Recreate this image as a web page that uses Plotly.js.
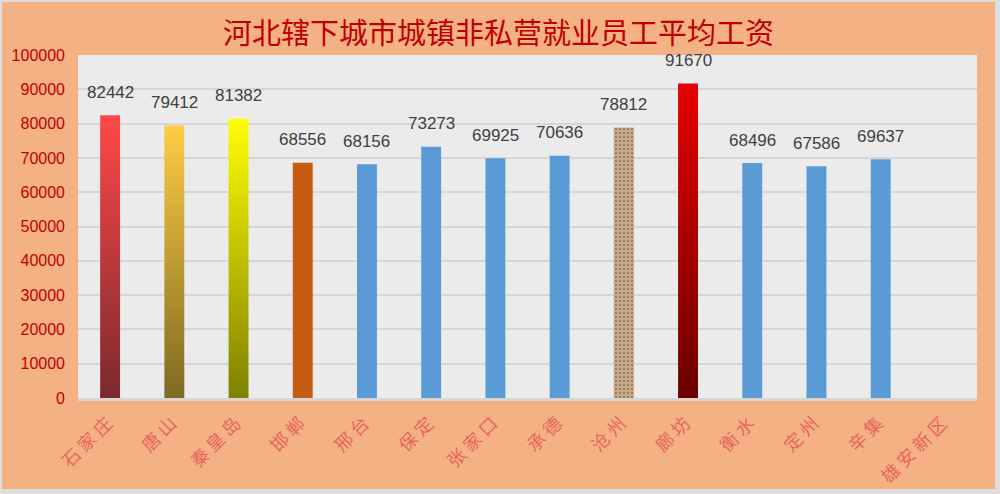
<!DOCTYPE html>
<html>
<head>
<meta charset="utf-8">
<script src="https://cdn.plot.ly/plotly-3.0.1.min.js"></script>
<style>
  body { margin: 0; background: #DEDEDE; }
  #chart { position: absolute; left: 2px; top: 2px; width: 993px; height: 487px; }
</style>
</head>
<body>
<div id="chart"></div>
<script>
// data
const cities = ['石家庄', '唐山', '秦皇岛', '邯郸', '邢台', '保定', '张家口', '承德', '沧州', '廊坊', '衡水', '定州', '辛集', '雄安新区'];
const wages = [82442, 79412, 81382, 68556, 68156, 73273, 69925, 70636, 78812, 91670, 68496, 67586, 69637, null];

// top / bottom colours of each bar (same = solid)
const topColors = ['#FF4848', '#FFCC44', '#FFFF00', '#C55A11', '#5B9BD5', '#5B9BD5', '#5B9BD5', '#5B9BD5', '#C4A584', '#E60000', '#5B9BD5', '#5B9BD5', '#5B9BD5', '#5B9BD5'];
const bottomColors = ['#7A2A2E', '#7E6A22', '#7F8000', '#C55A11', '#5B9BD5', '#5B9BD5', '#5B9BD5', '#5B9BD5', '#C4A584', '#6A0000', '#5B9BD5', '#5B9BD5', '#5B9BD5', '#5B9BD5'];

function plotWages(el) {

    let trace = {
        x: cities,
        y: wages,
        type: 'bar',
        marker: {
            color: topColors,
            line: {width: 0}
        },
        hoverinfo: 'x+y'
    };

    // sandy texture on 沧州
    let sand = {
        x: cities.map((c, i) => i == 8 ? c : null),
        y: wages.map((v, i) => i == 8 ? v : null),
        type: 'bar',
        marker: {
            color: '#C4A584',
            pattern: {shape: '.', fgcolor: '#6A5640', bgcolor: '#C9AA88', size: 4, solidity: 0.15}
        },
        hoverinfo: 'skip'
    };

    let notes = [];
    for (let i = 0; i < cities.length; i++) {
        if (wages[i] == null) continue;
        notes.push({
            x: cities[i],
            y: wages[i],
            text: String(wages[i]),
            showarrow: false,
            yshift: 23,
            font: {family: 'Liberation Sans, Arial, sans-serif', size: 17, color: '#404040'}
        });
    }

    const layout = {
        title: {
            text: '河北辖下城市城镇非私营就业员工平均工资',
            font: {family: 'Noto Sans CJK SC', size: 29, color: '#C00000'},
            x: 0.5, xanchor: 'center',
            y: 0.935, yanchor: 'middle'
        },
        paper_bgcolor: '#F4B183',
        plot_bgcolor: '#EBEBEB',
        margin: {l: 76, r: 18, t: 53, b: 91},
        barmode: 'overlay',
        bargap: 0.69,
        showlegend: false,
        xaxis: {
            type: 'category',
            tickangle: -45,
            tickfont: {family: 'Noto Sans CJK SC', size: 18, color: '#E8665C'},
            ticklabelstandoff: 2,
            showline: true,
            linecolor: '#D6D6D6',
            linewidth: 3,
            ticks: ''
        },
        yaxis: {
            range: [0, 100000],
            dtick: 10000,
            tickformat: 'd',
            gridcolor: '#D6D6D6',
            gridwidth: 2,
            zeroline: false,
            ticklabelstandoff: 12,
            tickfont: {family: 'Liberation Sans, Arial, sans-serif', size: 16, color: '#C00000'}
        },
        annotations: notes
    };

    return Plotly.newPlot(el, [trace, sand], layout, {staticPlot: true});
}

// Plotly bars have no gradient fill, so lay svg gradients over the drawn paths
function addGradients(el) {
    const svg = el.querySelector('.main-svg');
    const ns = 'http://www.w3.org/2000/svg';
    let defs = document.createElementNS(ns, 'defs');
    svg.insertBefore(defs, svg.firstChild);
    const paths = el.querySelectorAll('.barlayer .trace:first-child .point');
    paths.forEach((pt, k) => {
        let i = (pt.__data__ && pt.__data__.i != null) ? pt.__data__.i : k;
        if (topColors[i] == bottomColors[i]) return;
        let g = document.createElementNS(ns, 'linearGradient');
        g.setAttribute('id', 'grad' + i);
        g.setAttribute('x1', '0'); g.setAttribute('y1', '0');
        g.setAttribute('x2', '0'); g.setAttribute('y2', '1');
        [[0, topColors[i]], [1, bottomColors[i]]].forEach(s => {
            let stop = document.createElementNS(ns, 'stop');
            stop.setAttribute('offset', s[0]);
            stop.setAttribute('stop-color', s[1]);
            g.appendChild(stop);
        });
        defs.appendChild(g);
        let p = pt.querySelector('path');
        if (p) p.style.fill = 'url(#grad' + i + ')';
    });
    // the category names are spread out in the original
    el.querySelectorAll('.xtick text').forEach(t => { t.style.letterSpacing = '4px'; });
}

const el = document.getElementById('chart');
plotWages(el).then(() => addGradients(el));
</script>
</body>
</html>
